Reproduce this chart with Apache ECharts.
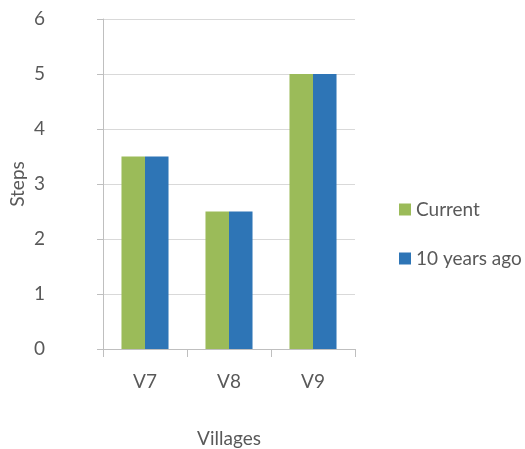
<!DOCTYPE html>
<html>
<head>
<meta charset="utf-8">
<script src="https://cdn.jsdelivr.net/npm/echarts@6/dist/echarts.min.js"></script>
<style>
  html, body { margin: 0; padding: 0; background: #fff; }
  #main { width: 525px; height: 449px; }
</style>
</head>
<body>
<div id="main"></div>
<script>
var villages = ["V7", "V8", "V9"];
var currentSteps = [3.5, 2.5, 5];
var tenYearsAgoSteps = [3.5, 2.5, 5];

var myChart = echarts.init(document.getElementById("main"));
var textColor = "#595959";
var option = {
  animation: false,
  textStyle: { fontFamily: "Lato" },
  grid: { left: 103, right: 170, top: 19, bottom: 100, outerBoundsMode: "none" },
  legend: {
    orient: "vertical",
    left: 394,
    top: 195,
    itemWidth: 12,
    itemHeight: 12,
    itemGap: 30,
    icon: "rect",
    textStyle: { fontSize: 19, color: textColor, fontFamily: "Lato" },
    data: ["Current", "10 years ago"],
  },
  xAxis: {
    type: "category",
    data: villages,
    name: "Villages",
    nameLocation: "middle",
    nameGap: 80,
    nameTextStyle: { fontSize: 19, color: textColor },
    axisLine: { lineStyle: { color: "#bfbfbf" } },
    axisTick: { show: true, length: 8, lineStyle: { color: "#bfbfbf" } },
    axisLabel: { fontSize: 19, color: textColor, margin: 23 },
  },
  yAxis: {
    type: "value",
    min: 0,
    max: 6,
    interval: 1,
    name: "Steps",
    nameLocation: "middle",
    nameGap: 76,
    nameTextStyle: { fontSize: 19, color: textColor },
    axisLine: { show: true, lineStyle: { color: "#bfbfbf" } },
    axisTick: { show: true, length: 6, lineStyle: { color: "#bfbfbf" } },
    axisLabel: { fontSize: 19, color: textColor, margin: 69, align: "left" },
    splitLine: { lineStyle: { color: "#d9d9d9" } },
  },
  series: [
    {
      name: "Current",
      type: "bar",
      data: currentSteps,
      barGap: "0%",
      barCategoryGap: "44%",
      itemStyle: { color: "#9BBB59" },
    },
    {
      name: "10 years ago",
      type: "bar",
      data: tenYearsAgoSteps,
      itemStyle: { color: "#2E75B6" },
    },
  ],
};
option && myChart.setOption(option);
</script>
</body>
</html>
